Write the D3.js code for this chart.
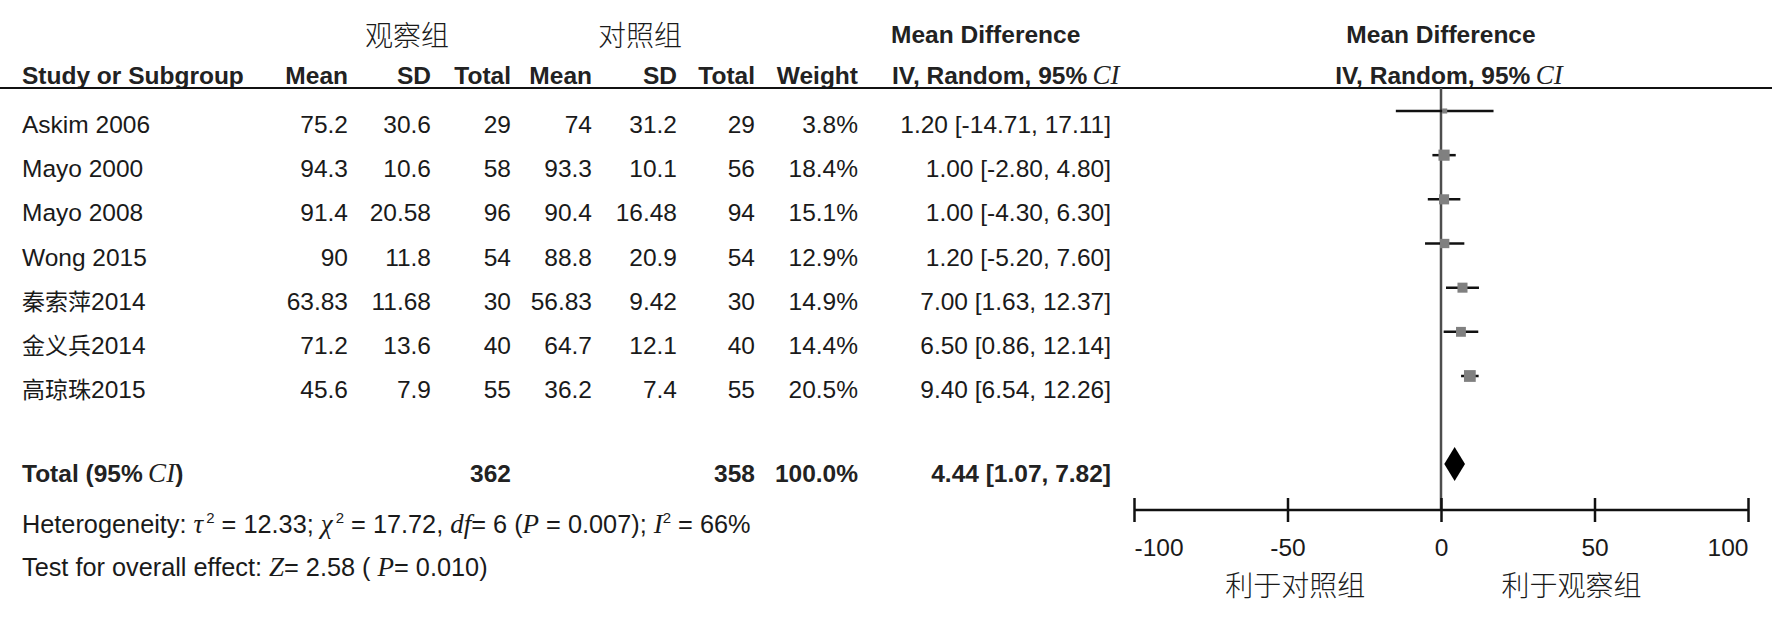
<!DOCTYPE html>
<html>
<head>
<meta charset="utf-8">
<script src="https://cdn.jsdelivr.net/npm/d3@7"></script>
<style>
  body { margin: 0; background: #fff; }
  text { font-family: "Liberation Sans", Arial, sans-serif; fill: #1a1a1a; }
  .b { font-weight: bold; fill: #222; }
  .cjk { font-family: "Noto Sans CJK SC", sans-serif; font-weight: 300; }
  .m { font-family: "Liberation Serif", serif; font-style: italic; }
</style>
</head>
<body>
<div id="chart"></div>
<script>
// study data
var studies = ["Askim 2006", "Mayo 2000", "Mayo 2008", "Wong 2015", "秦索萍2014", "金义兵2014", "高琼珠2015"];
var obsMean = ["75.2", "94.3", "91.4", "90", "63.83", "71.2", "45.6"];
var obsSD = ["30.6", "10.6", "20.58", "11.8", "11.68", "13.6", "7.9"];
var obsN = [29, 58, 96, 54, 30, 40, 55];
var ctrlMean = ["74", "93.3", "90.4", "88.8", "56.83", "64.7", "36.2"];
var ctrlSD = ["31.2", "10.1", "16.48", "20.9", "9.42", "12.1", "7.4"];
var ctrlN = [29, 56, 94, 54, 30, 40, 55];
var weights = [3.8, 18.4, 15.1, 12.9, 14.9, 14.4, 20.5];
var md = [1.20, 1.00, 1.00, 1.20, 7.00, 6.50, 9.40];
var lo = [-14.71, -2.80, -4.30, -5.20, 1.63, 0.86, 6.54];
var hi = [17.11, 4.80, 6.30, 7.60, 12.37, 12.14, 12.26];

// pooled
var totalObs = 362, totalCtrl = 358, totalWeight = 100.0;
var totalMd = 4.44, totalLo = 1.07, totalHi = 7.82;

var axisTicks = [-100, -50, 0, 50, 100];
var favourLabels = ["利于对照组", "利于观察组"];
var favourAt = [-47.5, 42.5];

var w = 1772;
var h = 617;

var svg = d3.select("#chart")
            .append("svg")
            .attr("width", w)
            .attr("height", h);

svg.append("rect").attr("width", w).attr("height", h).attr("fill", "#fff");

var x = d3.scaleLinear().domain([-100, 100]).range([1134, 1748]);
var y = d3.scalePoint().domain(studies).range([111, 376]);
var textOffset = 22;
var boxSide = d3.scaleSqrt().domain([0, 100]).range([0, 26]);

// hyphen minus like the original, not the unicode one
var fmt2 = function(v) { return v.toFixed(2); };

// headers
svg.append("text").attr("class", "cjk").attr("x", 407).attr("y", 46)
   .attr("text-anchor", "middle").style("font-size", "28px").text("观察组");
svg.append("text").attr("class", "cjk").attr("x", 640).attr("y", 46)
   .attr("text-anchor", "middle").style("font-size", "28px").text("对照组");

svg.append("text").attr("class", "b").attr("x", 891).attr("y", 43)
   .style("font-size", "24.5px").text("Mean Difference");
svg.append("text").attr("class", "b").attr("x", x(0)).attr("y", 43)
   .attr("text-anchor", "middle").style("font-size", "24.5px").text("Mean Difference");

var cols = [
  {x: 22, anchor: "start", head: "Study or Subgroup"},
  {x: 348, anchor: "end", head: "Mean"},
  {x: 431, anchor: "end", head: "SD"},
  {x: 511, anchor: "end", head: "Total"},
  {x: 592, anchor: "end", head: "Mean"},
  {x: 677, anchor: "end", head: "SD"},
  {x: 755, anchor: "end", head: "Total"},
  {x: 858, anchor: "end", head: "Weight"}
];

svg.selectAll("text.head")
    .data(cols)
    .enter()
    .append("text")
    .attr("class", "b head")
    .attr("x", function(d) { return d.x; })
    .attr("y", 84)
    .attr("text-anchor", function(d) { return d.anchor; })
    .style("font-size", "24.5px")
    .text(function(d) { return d.head; });

function ivHead(cx, anchor) {
  var t = svg.append("text").attr("class", "b").attr("x", cx).attr("y", 84)
     .attr("text-anchor", anchor).style("font-size", "24.5px");
  t.append("tspan").text("IV, Random, 95%");
  t.append("tspan").attr("class", "m").style("font-weight", "normal")
   .style("font-size", "27px").text("\u2009CI");
}
ivHead(892, "start");
ivHead(x(0) + 8, "middle");

svg.append("line").attr("x1", 0).attr("x2", w).attr("y1", 88).attr("y2", 88)
   .attr("stroke", "#111").attr("stroke-width", 2);

// table rows
var cells = [obsMean, obsSD, obsN, ctrlMean, ctrlSD, ctrlN];
studies.forEach(function(s, i) {
  var by = y(s) + textOffset;
  var t = svg.append("text").attr("x", 22).attr("y", by).style("font-size", "24.5px");
  var m = s.match(/^([\u4e00-\u9fff]+)(.*)$/);
  if (m) {
    t.append("tspan").attr("class", "cjk").style("font-size", "23px")
     .style("font-weight", "400").text(m[1]);
    t.append("tspan").text(m[2]);
  } else {
    t.text(s);
  }
  cells.forEach(function(arr, j) {
    svg.append("text").attr("x", cols[j + 1].x).attr("y", by)
       .attr("text-anchor", "end").style("font-size", "24.5px").text(arr[i]);
  });
  svg.append("text").attr("x", 858).attr("y", by).attr("text-anchor", "end")
     .style("font-size", "24.5px").text(weights[i].toFixed(1) + "%");
  svg.append("text").attr("x", 1111).attr("y", by).attr("text-anchor", "end")
     .style("font-size", "24.5px")
     .text(fmt2(md[i]) + " [" + fmt2(lo[i]) + ", " + fmt2(hi[i]) + "]");
});

// total row
var ty = 482;
var tt = svg.append("text").attr("class", "b").attr("x", 22).attr("y", ty).style("font-size", "24.5px");
tt.append("tspan").text("Total (95%");
tt.append("tspan").attr("class", "m").style("font-weight", "normal").style("font-size", "27px").text("\u2009CI");
tt.append("tspan").text(")");
svg.append("text").attr("class", "b").attr("x", 511).attr("y", ty).attr("text-anchor", "end")
   .style("font-size", "24.5px").text(totalObs);
svg.append("text").attr("class", "b").attr("x", 755).attr("y", ty).attr("text-anchor", "end")
   .style("font-size", "24.5px").text(totalCtrl);
svg.append("text").attr("class", "b").attr("x", 858).attr("y", ty).attr("text-anchor", "end")
   .style("font-size", "24.5px").text(totalWeight.toFixed(1) + "%");
svg.append("text").attr("class", "b").attr("x", 1111).attr("y", ty).attr("text-anchor", "end")
   .style("font-size", "24.5px")
   .text(fmt2(totalMd) + " [" + fmt2(totalLo) + ", " + fmt2(totalHi) + "]");

// heterogeneity + overall effect
function richLine(yy, parts) {
  var t = svg.append("text").attr("x", 22).attr("y", yy).style("font-size", "25.3px");
  parts.forEach(function(p) {
    var sp = t.append("tspan").text(p[0]);
    if (p[1] == "m") sp.attr("class", "m").style("font-size", "27px");
    if (p[1] == "sup") sp.style("font-size", "15px").attr("dy", -10);
    if (p[1] == "down") sp.attr("dy", 10);
  });
}
richLine(533, [["Heterogeneity: "], ["\u03c4", "m"], ["\u20092", "sup"], [" = 12.33; ", "down"],
  ["\u03c7", "m"], ["\u20092", "sup"], [" = 17.72, ", "down"], ["df", "m"], ["= 6 ("], ["P", "m"],
  [" = 0.007); "], ["I", "m"], ["2", "sup"], [" = 66%", "down"]]);
richLine(576, [["Test for overall effect:  "], ["Z", "m"], ["= 2.58 ( "], ["P", "m"], ["= 0.010)"]]);

// forest plot
svg.append("line").attr("x1", x(0)).attr("x2", x(0)).attr("y1", 88).attr("y2", 510)
   .attr("stroke", "#4d4d4d").attr("stroke-width", 2.5);

svg.selectAll("line.ci")
    .data(studies)
    .enter()
    .append("line")
    .attr("x1", function(d, i) { return x(lo[i]); })
    .attr("x2", function(d, i) { return x(hi[i]); })
    .attr("y1", function(d) { return y(d); })
    .attr("y2", function(d) { return y(d); })
    .attr("stroke", "#111")
    .attr("stroke-width", 2.5);

svg.selectAll("rect.box")
    .data(studies)
    .enter()
    .append("rect")
    .attr("x", function(d, i) { return x(md[i]) - boxSide(weights[i]) / 2; })
    .attr("y", function(d, i) { return y(d) - boxSide(weights[i]) / 2; })
    .attr("width", function(d, i) { return boxSide(weights[i]); })
    .attr("height", function(d, i) { return boxSide(weights[i]); })
    .attr("fill", "#808080");

var dy0 = 464, dh = 17;
svg.append("path")
   .attr("d", "M" + x(totalLo) + "," + dy0 + "L" + x(totalMd) + "," + (dy0 - dh) +
              "L" + x(totalHi) + "," + dy0 + "L" + x(totalMd) + "," + (dy0 + dh) + "Z")
   .attr("fill", "#000");

// axis
var axisG = svg.append("g").attr("transform", "translate(0,498)")
   .call(d3.axisBottom(x).tickValues(axisTicks).tickSize(24).tickSizeOuter(0)
           .tickFormat(function(d) { return String(d); }));
axisG.select(".domain").remove();
axisG.selectAll(".tick line").attr("stroke", "#111").attr("stroke-width", 2.5);
axisG.selectAll(".tick text")
   .attr("y", 58).attr("dy", 0)
   .style("font-size", "24.5px").style("font-family", "'Liberation Sans', Arial, sans-serif")
   .attr("fill", "#1a1a1a")
   .attr("text-anchor", function(d, i) { return i == 0 ? "start" : (i == axisTicks.length - 1 ? "end" : "middle"); });
svg.append("line").attr("x1", x(-100)).attr("x2", x(100)).attr("y1", 510).attr("y2", 510)
   .attr("stroke", "#111").attr("stroke-width", 2.5);

svg.selectAll("text.fav")
    .data(favourLabels)
    .enter()
    .append("text")
    .attr("class", "cjk fav")
    .attr("x", function(d, i) { return x(favourAt[i]); })
    .attr("y", 596)
    .attr("text-anchor", "middle")
    .style("font-size", "28px")
    .text(function(d) { return d; });
</script>
</body>
</html>
